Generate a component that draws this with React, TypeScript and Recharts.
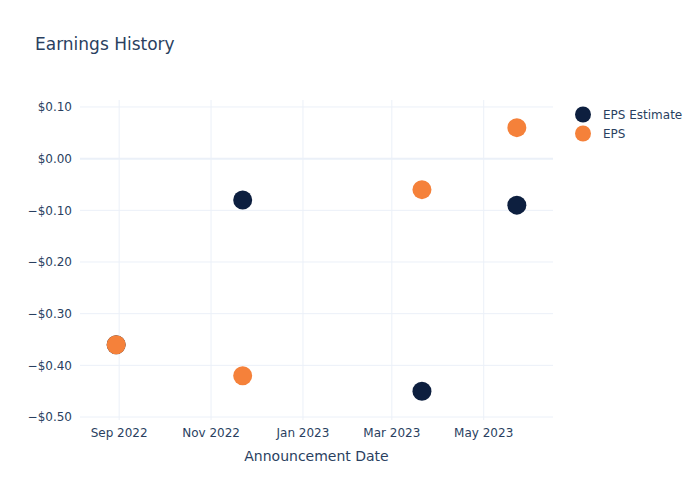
import { ScatterChart, Scatter, XAxis, YAxis, CartesianGrid, ReferenceLine } from 'recharts';

const announceDates = ['2022-08-30', '2022-11-22', '2023-03-21', '2023-05-23'];
const epsEstimate = [-0.36, -0.08, -0.45, -0.09];
const epsActual = [-0.36, -0.42, -0.06, 0.06];
const xTickDates = ['2022-09-01', '2022-11-01', '2023-01-01', '2023-03-01', '2023-05-01'];
const yTicks = [-0.5, -0.4, -0.3, -0.2, -0.1, 0, 0.1];

const FONT = '"DejaVu Sans", verdana, arial, sans-serif';
const TEXT = '#2a3f5f';
const GRID = '#ebf0f8';
const NAVY = '#0d1f3f';
const ORANGE = '#f5813a';

const ts = (d: string) => new Date(d + 'T00:00:00Z').getTime();

const estimateData = announceDates.map((d, i) => ({ date: ts(d), eps: epsEstimate[i] }));
const actualData = announceDates.map((d, i) => ({ date: ts(d), eps: epsActual[i] }));
const xTicks = xTickDates.map(ts);

const MONTHS = ['Jan', 'Feb', 'Mar', 'Apr', 'May', 'Jun', 'Jul', 'Aug', 'Sep', 'Oct', 'Nov', 'Dec'];
const fmtDate = (v: number) => {
  const d = new Date(v);
  return `${MONTHS[d.getUTCMonth()]} ${d.getUTCFullYear()}`;
};
const fmtMoney = (v: number) => {
  const s = '$' + Math.abs(v).toFixed(2);
  return v < -1e-9 ? '\u2212' + s : s;
};

const dot = (color: string) => (props: any) => (
  <circle cx={props.cx} cy={props.cy} r={9.5} fill={color} />
);

function LegendBox() {
  const items = [
    { name: 'EPS Estimate', color: NAVY },
    { name: 'EPS', color: ORANGE },
  ];
  return (
    <div style={{ position: 'absolute', left: 574, top: 105, fontFamily: FONT, fontSize: 12, color: TEXT }}>
      {items.map(it => (
        <div key={it.name} style={{ display: 'flex', alignItems: 'center', height: 19 }}>
          <svg width={20} height={19}>
            <circle cx={9} cy={9.5} r={8} fill={it.color} />
          </svg>
          <span style={{ marginLeft: 9 }}>{it.name}</span>
        </div>
      ))}
    </div>
  );
}

export default function App() {
  return (
    <div style={{ position: 'absolute', left: 0, top: 0, width: 700, height: 500, background: '#fff' }}>
      <div style={{ position: 'absolute', left: 35, top: 34, fontFamily: FONT, fontSize: 17, color: TEXT }}>
        Earnings History
      </div>
      <ScatterChart width={700} height={500} margin={{ top: 100, right: 147, bottom: 0, left: 0 }}>
        <CartesianGrid stroke={GRID} strokeWidth={1} syncWithTicks />
        <XAxis
          type="number"
          dataKey="date"
          domain={[ts('2022-08-06'), ts('2023-06-16')]}
          ticks={xTicks}
          tickFormatter={fmtDate}
          axisLine={false}
          tickLine={false}
          height={80}
          tick={{ fill: TEXT, fontSize: 12, fontFamily: FONT }}
          label={{ value: 'Announcement Date', position: 'insideTop', offset: 31, fill: TEXT, fontSize: 14, fontFamily: FONT }}
        />
        <YAxis
          type="number"
          dataKey="eps"
          domain={[-0.5058, 0.1135]}
          ticks={yTicks}
          tickFormatter={fmtMoney}
          axisLine={false}
          tickLine={false}
          width={80}
          tick={{ fill: TEXT, fontSize: 12, fontFamily: FONT }}
        />
        <ReferenceLine y={0} stroke={GRID} strokeWidth={2} />
        <Scatter name="EPS Estimate" data={estimateData} fill={NAVY} shape={dot(NAVY)} isAnimationActive={false} />
        <Scatter name="EPS" data={actualData} fill={ORANGE} shape={dot(ORANGE)} isAnimationActive={false} />
      </ScatterChart>
      <LegendBox />
    </div>
  );
}
